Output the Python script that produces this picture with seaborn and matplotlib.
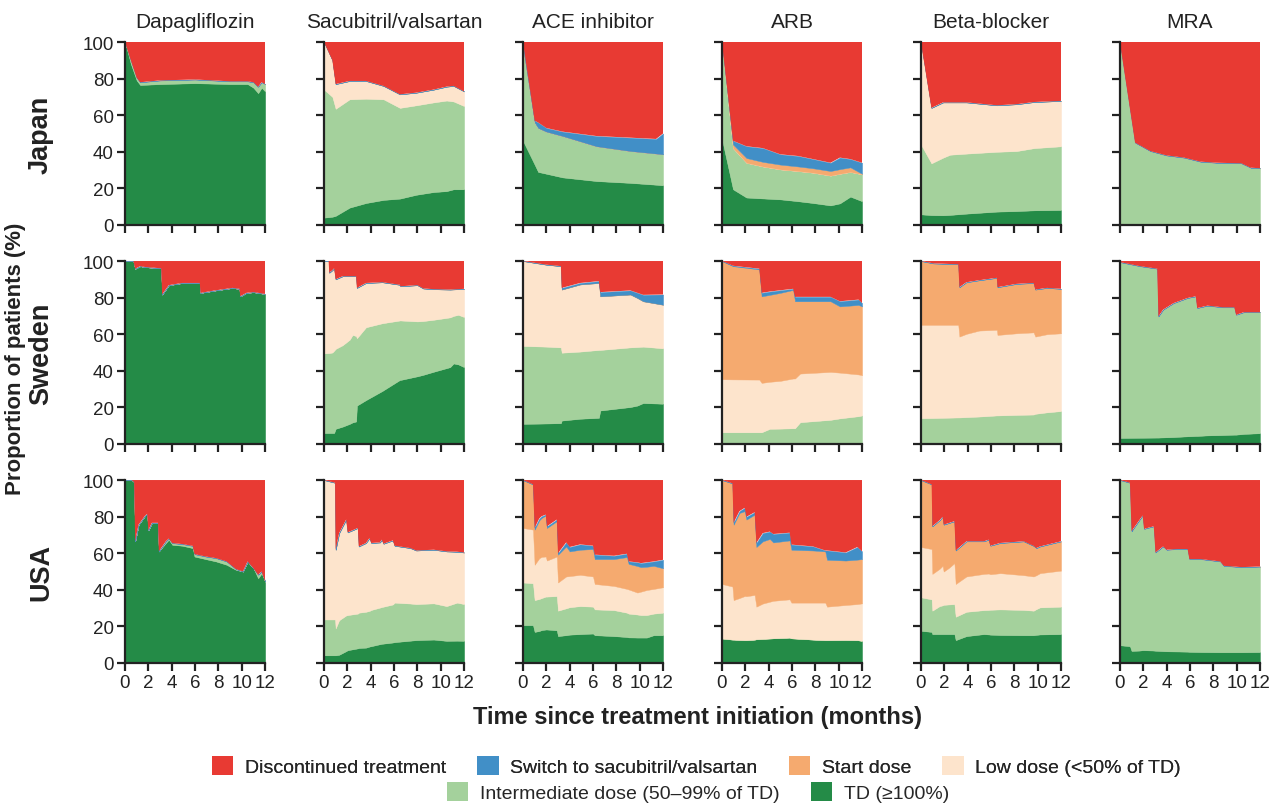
import matplotlib
matplotlib.use("Agg")
import matplotlib.pyplot as plt
import seaborn as sns
from matplotlib.patches import Patch

# ---------------- data (cumulative upper edge of each layer, %) ----------------
drugs = ["Dapagliflozin", "Sacubitril/valsartan", "ACE inhibitor", "ARB", "Beta-blocker", "MRA"]
countries = ["Japan", "Sweden", "USA"]
layer_names = ["Discontinued treatment", "Switch to sacubitril/valsartan", "Start dose",
               "Low dose (<50% of TD)", "Intermediate dose (50\u201399% of TD)", "TD (\u2265100%)"]
layer_colors = ["#E83A33", "#418FC7", "#F5AA6F", "#FDE4CC", "#A4D19C", "#248B47"]
x_ticks = [0, 2, 4, 6, 8, 10, 12]
y_ticks = [0, 20, 40, 60, 80, 100]

# Japan
jp_dapa_t = [0, 0.5, 1.0, 1.3, 3, 6, 9, 10.5, 11, 11.4, 11.7, 12]
jp_dapa_td = [100, 88, 79, 76.5, 77, 77.5, 77, 77, 75, 72, 75, 73]
jp_dapa_int = [100, 90, 80.5, 78, 79, 79.5, 78.5, 78.5, 78, 75.5, 78, 77]

jp_sac_t = [0, 0.72, 1.0, 2.2, 3.6, 5.1, 6.5, 7.9, 9.4, 10.5, 11.1, 12]
jp_sac_td = [4, 4.5, 5, 9.5, 12, 13.7, 14.4, 16.5, 18, 18.5, 19.5, 19.5]
jp_sac_int = [74, 70, 63.5, 68.7, 69, 68.7, 64, 65.4, 67, 68, 67.5, 65]
jp_sac_low = [100, 90, 77, 78.7, 78.7, 76, 71.4, 72.3, 74, 75.6, 76, 73]

jp_ace_t = [0, 1.0, 1.3, 2.0, 3.4, 6.3, 9.2, 11.4, 12]
jp_ace_td = [46, 33, 29, 28, 26, 24, 23, 22, 21.7]
jp_ace_int = [97, 56, 53, 51, 48.6, 43, 40.4, 39, 38.6]
jp_ace_sw = [100, 57, 56, 53, 51, 48.6, 47.7, 47, 50]

jp_arb_t = [0, 0.95, 2.1, 3.5, 5, 6.5, 7.8, 9.3, 10.1, 11, 12]
jp_arb_td = [47, 19.5, 15, 14.5, 14, 13, 12, 10.7, 11.8, 15.5, 13]
jp_arb_int = [100, 42, 34, 32, 30.4, 29.5, 28.6, 27, 28, 29, 27.7]
jp_arb_start = [100, 44, 36.6, 34.5, 33, 32, 31, 29.5, 30.5, 31.5, 28]
jp_arb_sw = [100, 46, 43, 42, 38.6, 37.7, 36, 34, 36.8, 36, 34]

jp_bb_t = [0, 0.9, 1.9, 2.5, 3.9, 6.5, 8.2, 9.7, 12]
jp_bb_td = [5.8, 5.4, 5.3, 5.5, 6.2, 7.3, 7.6, 8, 8.2]
jp_bb_int = [44, 33.7, 36.8, 38.4, 39, 40, 40.4, 42, 43]
jp_bb_low = [100, 64, 67, 67, 67, 65.4, 66, 67.2, 67.8]

jp_mra_t = [0, 1.3, 2.6, 4, 5.5, 6.9, 8.3, 10.4, 11.2, 12]
jp_mra_td = [0, 0, 0, 0, 0, 0, 0, 0, 0, 0]
jp_mra_int = [100, 45, 40.4, 38, 36.8, 34.6, 34, 33.7, 31.3, 31]

# Sweden
se_dapa_t = [0, 0.72, 0.87, 1.3, 1.73, 3.1, 3.18, 3.75, 4.9, 6.4, 6.47, 7.8, 9.2, 9.8, 9.87, 10.4, 11, 12]
se_dapa_td = [100, 100, 95.8, 97.2, 96.7, 96, 81.7, 86.8, 88, 88, 82.6, 84, 85.3, 84.8, 80.7, 82.6, 83, 82]

se_sac_t = [0, 0.4, 0.45, 0.72, 0.87, 1.0, 1.6, 2.2, 2.45, 2.75, 2.82, 3.6, 5.0, 6.5, 6.55, 8.0, 8.5, 9.4,
            10.8, 11.1, 11.5, 12]
se_sac_td = [6, 6, 6, 6, 6, 8.3, 9.5, 11, 11.8, 12.3, 21, 24, 29, 35, 35, 37, 37.8, 39.5, 42, 44, 43.5, 42]
se_sac_int = [49.5, 49.7, 49.7, 50, 51, 52, 54, 57, 59.6, 59, 57.8, 63.8, 66, 67.5, 67.5, 67, 67.2, 67.9,
              69.2, 70, 70.6, 69.4]
se_sac_low = [100, 100, 93.6, 95, 96, 90, 91.7, 91.7, 91.7, 91.7, 85.3, 88, 88.4, 87, 86.2, 86.8, 85, 84.6,
              84.4, 84.5, 84.6, 84.8]

se_ace_t = [0, 2, 3.25, 3.32, 4.9, 6.5, 6.62, 9.2, 9.8, 10.3, 12]
se_ace_td = [11, 11.2, 11.4, 12.8, 13.8, 14.3, 18.3, 20.2, 21, 22.4, 22]
se_ace_int = [53.6, 53.2, 52.8, 49.9, 50.5, 51.4, 51.4, 52.8, 53, 53.2, 52.3]
se_ace_low = [100, 98, 97.2, 84.4, 87.2, 88, 80.7, 81.7, 79.8, 78, 76.1]
se_ace_sw = [100, 98, 97.2, 85.3, 88, 89, 83, 83.9, 82.6, 81.5, 81.7]

se_arb_t = [0, 0.95, 3.2, 3.4, 4.1, 5.0, 6.1, 6.26, 6.7, 9.3, 10.1, 11.7, 12]
se_arb_td = [0] * 13
se_arb_int = [6.4, 6.4, 6.4, 6.4, 8.3, 8.4, 8.6, 8.6, 11.9, 13.2, 14, 15.2, 15.6]
se_arb_low = [35.4, 35.3, 35.2, 33.4, 34, 34.5, 35.8, 35.8, 38.5, 39.4, 39, 38, 37.6]
se_arb_start = [100, 97.2, 95.4, 80.7, 81.5, 82.6, 84.2, 78, 78, 78, 75.2, 76, 75.2]
se_arb_sw = [100, 97.4, 95.8, 82.6, 83.3, 84, 84.8, 80.4, 80.4, 80.4, 78, 78.9, 77]

se_bb_t = [0, 1.06, 3.2, 3.3, 3.9, 5.0, 6.5, 6.56, 8.2, 9.65, 9.8, 10.8, 12]
se_bb_td = [0] * 13
se_bb_int = [14.1, 14.2, 14.5, 14.5, 14.7, 15, 15.6, 15.6, 15.9, 16.1, 16.5, 17.3, 18]
se_bb_low = [65.1, 65.1, 65.1, 58.7, 60.2, 62, 62.4, 59.6, 60.5, 61, 58.7, 60, 60.5]
se_bb_start = [100, 98.7, 98.2, 85.7, 88.4, 89.5, 90.8, 85.7, 87.5, 88, 84.4, 85.3, 84.8]

se_mra_t = [0, 1.7, 3.2, 3.3, 3.7, 4.6, 5.8, 6.5, 6.62, 7.5, 8.8, 9.8, 9.95, 10.6, 12]
se_mra_td = [3.3, 3.4, 3.5, 3.5, 3.6, 3.8, 4.2, 4.4, 4.4, 4.7, 4.9, 5.1, 5.1, 5.5, 5.9]
se_mra_int = [99.4, 97.2, 95.8, 69.7, 73.4, 77, 79.8, 80.7, 74.3, 75.6, 74.7, 74.7, 70.6, 72, 72]

# USA
us_dapa_t = [0, 0.58, 0.78, 0.87, 1.16, 1.73, 1.9, 2.0, 2.3, 2.83, 2.9, 3.5, 3.75, 4.05, 4.9, 5.8, 5.95,
             6.9, 7.8, 8.7, 9.5, 10.1, 10.5, 11, 11.4, 11.7, 12]
us_dapa_td = [100, 100, 98.9, 66.5, 75.6, 80.6, 81.5, 72.5, 76.6, 76.6, 61, 65.6, 67.4, 64.6, 64.1, 62.8,
              58.2, 56.8, 55.5, 53.7, 50.9, 50, 55.5, 51.8, 46.3, 49, 44.5]
us_dapa_int = [100, 100, 98.9, 66.5, 75.6, 80.6, 81.5, 72.5, 76.6, 76.6, 61, 66.5, 68, 65.5, 65, 64,
               59.5, 58.2, 57.3, 55.5, 51.3, 50, 55.5, 51.8, 48.2, 50, 44.5]

us_sac_t = [0, 0.95, 1.0, 1.3, 1.9, 2.03, 2.9, 2.98, 3.6, 3.9, 4.05, 4.8, 4.95, 5.1, 5.9, 6.05, 7.4, 7.9,
            9.4, 10.5, 11.4, 12]
us_sac_td = [4.2, 4.2, 4.2, 4.5, 6.5, 7, 8, 8.2, 8.4, 9, 9.2, 10.3, 10.5, 10.6, 11.2, 11.4, 12.2, 12.5,
             12.8, 12.1, 12.2, 12.1]
us_sac_int = [23.8, 23.8, 18.9, 23.4, 26, 26.2, 27, 27.5, 28, 28.5, 29, 30.3, 30.6, 30.8, 32, 33, 32.5,
              32.2, 32.6, 31.1, 33, 32.2]
us_sac_low = [100, 98.5, 61.9, 71, 78.4, 71.4, 73.8, 63.7, 65.6, 68.3, 65.6, 65.9, 67.4, 65.2, 67, 64.1,
              62.8, 61.5, 61.9, 61, 60.8, 60.4]

us_ace_t = [0, 0.86, 1.0, 1.4, 1.6, 1.95, 2.05, 2.9, 3.0, 3.7, 4.0, 4.9, 6.0, 6.15, 7.8, 8.9, 9.05, 9.8,
            10.1, 10.6, 11.2, 12]
us_ace_td = [20.7, 20.7, 17, 17.5, 18, 18.3, 18.3, 17.9, 14.7, 15.2, 15.5, 15.8, 16.1, 15.2, 14.7, 14.2,
             14, 13.9, 13.9, 13.9, 15.2, 15.2]
us_ace_int = [44, 43.6, 34.4, 35, 35.5, 36.3, 36.3, 36.6, 28.6, 29.9, 30.5, 31.1, 30.8, 29.3, 28.9, 27.5,
              27, 26.5, 26.2, 26.2, 27, 27.5]
us_ace_low = [73.8, 72.9, 53.7, 57.3, 58, 58.2, 56, 58.2, 44, 47.3, 47.5, 48.2, 47.3, 43.2, 42.1, 40.5,
              40.2, 38.5, 39, 39.9, 40.5, 41.4]
us_ace_start = [100, 97.6, 72.9, 78, 79.3, 80.6, 73.8, 77.5, 59.2, 63.7, 61, 61.9, 62.3, 56.8, 56.8, 57.9,
                54.2, 53, 52.4, 52.6, 53.1, 51.8]
us_ace_sw = [100, 97.6, 73.8, 79, 80.2, 81.1, 74.7, 78.4, 60, 65.9, 63.4, 64.8, 64.1, 59.2, 58.6, 59.7,
             55.5, 55, 54.6, 55, 55.5, 56.4]

us_arb_t = [0, 0.9, 1.0, 1.5, 1.95, 2.1, 2.8, 2.95, 3.5, 4.1, 4.4, 5.8, 5.95, 7.8, 8.85, 9.0, 10.6, 11.6, 12]
us_arb_td = [13.4, 12.8, 12.8, 12.6, 12.5, 12.5, 12.8, 13, 13.2, 13.4, 13.5, 13.9, 13.5, 12.8, 12.5, 12.5,
             12.6, 12.5, 12.1]
us_arb_low = [43.2, 41.8, 34.4, 35.5, 36.6, 36.5, 37.2, 30.8, 32.5, 33.5, 34, 34.8, 33, 33, 33, 30.8,
              31.7, 32.2, 32.6]
us_arb_start = [100, 98.2, 75.6, 82, 83, 78.4, 81.1, 63.4, 66.5, 67.8, 65.9, 67, 61.9, 61.5, 61, 56.4,
                56, 56.5, 56.8]
us_arb_sw = [100, 98.2, 76.6, 83, 84.8, 79.9, 82.4, 65.6, 71, 71.8, 70.5, 71.2, 64.7, 63.7, 61.5, 61.5,
             60.4, 63.4, 61]

us_bb_t = [0, 0.92, 0.98, 1.6, 1.86, 1.95, 2.4, 2.87, 2.98, 3.9, 5.4, 5.8, 5.95, 6.8, 8.8, 9.65, 9.9, 10.2, 12]
us_bb_td = [17.6, 17, 15.8, 15.8, 15.8, 15.8, 15.8, 15.8, 12.5, 14.7, 15.8, 15.6, 15.5, 15.3, 15.2, 15.2,
            15.4, 15.6, 15.8]
us_bb_int = [35.9, 34.8, 28.6, 31.1, 31.5, 31.8, 32, 32.2, 25.3, 28, 28.9, 29, 29.1, 29.3, 29, 28.6, 29.5,
             30.4, 30.8]
us_bb_low = [63.4, 62.3, 48.7, 51.5, 53.1, 50, 52, 54.6, 43.2, 47.3, 48.7, 48.9, 48.5, 49.1, 48, 47.3, 48,
             49.1, 50.5]
us_bb_start = [100, 97.6, 74.7, 78, 79.9, 75.6, 76.5, 77.5, 61.5, 66.5, 66.5, 67.4, 64.1, 65.6, 66.5, 64,
               62.8, 63.7, 66.5]

us_mra_t = [0, 0.86, 1.0, 1.7, 1.95, 2.07, 2.9, 3.05, 3.7, 4.0, 4.9, 5.8, 5.95, 6.9, 8.6, 8.9, 10.4, 12]
us_mra_td = [9.7, 9.2, 6.6, 6.8, 7, 7, 6.8, 6.7, 6.5, 6.4, 6.3, 6.2, 6.1, 6.0, 5.9, 5.9, 5.9, 6]
us_mra_int = [100, 98.5, 72, 78.4, 80.6, 73.3, 74.7, 60.4, 63.7, 61.9, 62.3, 62.3, 56.8, 56.8, 55.5,
              53.1, 52.4, 52.7]

# panel lookup: (time, TD top, intermediate top, low top, start top, switch top)
panels = {
    ("Japan", 0): (jp_dapa_t, jp_dapa_td, jp_dapa_int, None, None, None),
    ("Japan", 1): (jp_sac_t, jp_sac_td, jp_sac_int, jp_sac_low, None, None),
    ("Japan", 2): (jp_ace_t, jp_ace_td, jp_ace_int, None, None, jp_ace_sw),
    ("Japan", 3): (jp_arb_t, jp_arb_td, jp_arb_int, None, jp_arb_start, jp_arb_sw),
    ("Japan", 4): (jp_bb_t, jp_bb_td, jp_bb_int, jp_bb_low, None, None),
    ("Japan", 5): (jp_mra_t, jp_mra_td, jp_mra_int, None, None, None),
    ("Sweden", 0): (se_dapa_t, se_dapa_td, None, None, None, None),
    ("Sweden", 1): (se_sac_t, se_sac_td, se_sac_int, se_sac_low, None, None),
    ("Sweden", 2): (se_ace_t, se_ace_td, se_ace_int, se_ace_low, None, se_ace_sw),
    ("Sweden", 3): (se_arb_t, se_arb_td, se_arb_int, se_arb_low, se_arb_start, se_arb_sw),
    ("Sweden", 4): (se_bb_t, se_bb_td, se_bb_int, se_bb_low, se_bb_start, None),
    ("Sweden", 5): (se_mra_t, se_mra_td, se_mra_int, None, None, None),
    ("USA", 0): (us_dapa_t, us_dapa_td, us_dapa_int, None, None, None),
    ("USA", 1): (us_sac_t, us_sac_td, us_sac_int, us_sac_low, None, None),
    ("USA", 2): (us_ace_t, us_ace_td, us_ace_int, us_ace_low, us_ace_start, us_ace_sw),
    ("USA", 3): (us_arb_t, us_arb_td, None, us_arb_low, us_arb_start, us_arb_sw),
    ("USA", 4): (us_bb_t, us_bb_td, us_bb_int, us_bb_low, us_bb_start, None),
    ("USA", 5): (us_mra_t, us_mra_td, us_mra_int, None, None, None),
}

# ---------------- drawing ----------------
sns.set_style("ticks")
plt.rcParams["font.family"] = ["Liberation Sans", "DejaVu Sans"]
plt.rcParams["axes.linewidth"] = 1.6

fig, axes = plt.subplots(3, 6, figsize=(12.78, 8.04), dpi=100)
fig.subplots_adjust(left=125 / 1278, right=1260 / 1278, top=1 - 43 / 804, bottom=1 - 664 / 804,
                    wspace=0.42, hspace=0.197)

# bottom-to-top layer order: TD, intermediate, low, start, switch, discontinued
stack_colors = layer_colors[::-1]

for r, country in enumerate(countries):
    for c, drug in enumerate(drugs):
        ax = axes[r, c]
        t, *tops = panels[(country, c)]
        prev = [0.0] * len(t)
        for k in range(6):
            if k < 5:
                top = tops[k] if tops[k] is not None else prev
            else:
                top = [100.0] * len(t)
            ax.fill_between(t, prev, top, color=stack_colors[k], linewidth=0.3,
                            edgecolor=stack_colors[k] if k < 5 else "none")
            prev = top
        ax.set_xlim(0, 12)
        ax.set_ylim(0, 100)
        ax.set_xticks(x_ticks)
        ax.set_yticks(y_ticks)
        ax.tick_params(direction="out", length=6, width=1.6, color="#222222",
                       labelsize=13.5, labelcolor="#222222", pad=2)
        if c != 0:
            ax.set_yticklabels([])
        if r != 2:
            ax.set_xticklabels([])
        for s in ["left", "bottom"]:
            ax.spines[s].set_color("#222222")
        sns.despine(ax=ax)
        if r == 0:
            ax.set_title(drug, fontsize=15, pad=11, color="#222222")

for r, country in enumerate(countries):
    pos = axes[r, 0].get_position()
    fig.text(0.032, (pos.y0 + pos.y1) / 2, country, rotation=90, fontsize=19.5, fontweight="bold",
             ha="center", va="center", color="#222222")

fig.text(0.012, 1 - 359 / 804, "Proportion of patients (%)", rotation=90, fontsize=16,
         fontweight="bold", ha="center", va="center", color="#222222")
fig.text(0.546, 1 - 718 / 804, "Time since treatment initiation (months)", fontsize=17,
         fontweight="bold", ha="center", va="center", color="#222222")

handles = [Patch(facecolor=col, edgecolor="none") for col in layer_colors]
leg1 = fig.legend(handles[:4], layer_names[:4], ncol=4, loc="center", bbox_to_anchor=(0.545, 1 - 767 / 804),
                  frameon=False, fontsize=14, handlelength=1.1, handleheight=1.1, columnspacing=1.6,
                  handletextpad=0.6)
leg2 = fig.legend(handles[4:], layer_names[4:], ncol=2, loc="center", bbox_to_anchor=(0.546, 1 - 793 / 804),
                  frameon=False, fontsize=14, handlelength=1.1, handleheight=1.1, columnspacing=1.6,
                  handletextpad=0.6)
fig.add_artist(leg1)

fig.savefig("out.png", dpi=100)
